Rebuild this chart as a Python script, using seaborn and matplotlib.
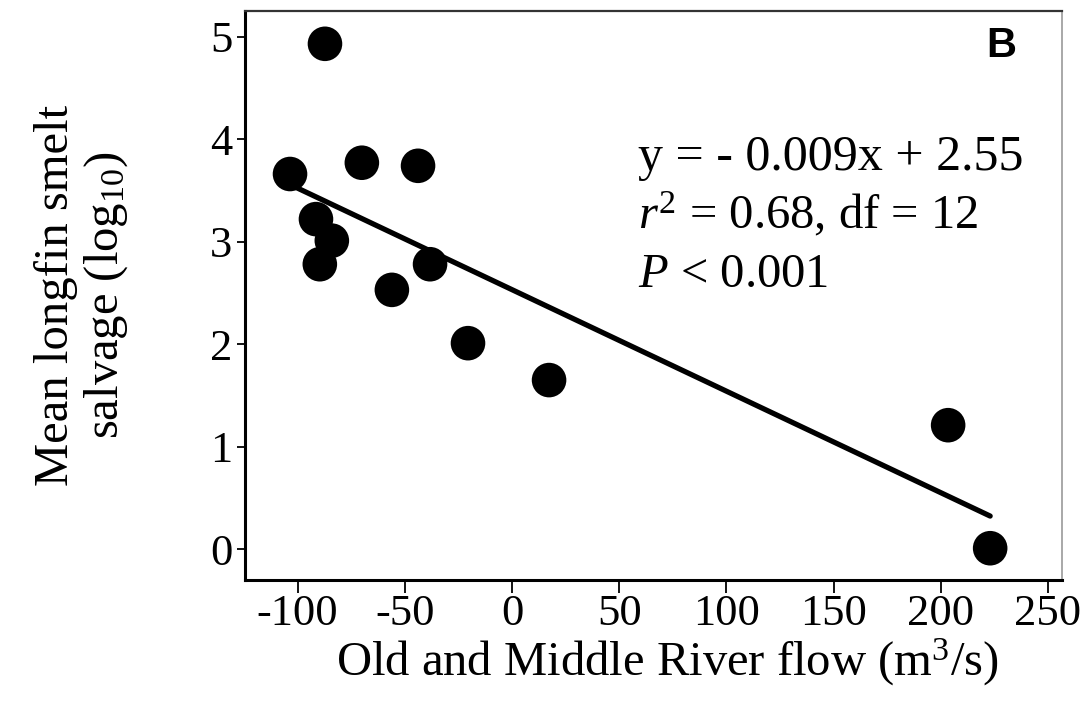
import matplotlib
matplotlib.use('Agg')
import matplotlib.pyplot as plt
import pandas as pd
import seaborn as sns

# values
omr_flow = [-87.2, -103.5, -70.0, -43.8, -91.4, -84.0, -89.6, -38.2, -56.0, -20.5, 17.3, 203.4, 223.0]
log_salvage = [4.93, 3.66, 3.77, 3.74, 3.22, 3.01, 2.78, 2.78, 2.53, 2.01, 1.65, 1.21, 0.01]
x_ticks = [-100, -50, 0, 50, 100, 150, 200, 250]
y_ticks = [0, 1, 2, 3, 4, 5]

df = pd.DataFrame({'flow': omr_flow, 'salvage': log_salvage})

sns.set_style('ticks')
plt.rcParams['font.family'] = ['Liberation Serif', 'DejaVu Serif']
plt.rcParams['text.color'] = 'black'
plt.rcParams['axes.labelcolor'] = 'black'
plt.rcParams['xtick.color'] = 'black'
plt.rcParams['ytick.color'] = 'black'
plt.rcParams['mathtext.fontset'] = 'custom'
plt.rcParams['mathtext.rm'] = 'Liberation Serif'
plt.rcParams['mathtext.it'] = 'Liberation Serif:italic'

fig = plt.figure(figsize=(10.84, 7.05), dpi=100)
ax = fig.add_axes([0.226, 0.1773, 0.7537, 0.8071])

sns.regplot(data=df, x='flow', y='salvage', ax=ax, ci=None, color='black',
            scatter_kws={'s': 620, 'alpha': 1, 'edgecolor': 'none'},
            line_kws={'linewidth': 3.8})

ax.set_xlim(-124.5, 256.5)
ax.set_ylim(-0.3, 5.25)
ax.set_xticks(x_ticks)
ax.set_xticklabels([str(t) for t in x_ticks])
ax.set_yticks(y_ticks)
ax.tick_params(axis='x', labelsize=32, length=9, width=1.3, pad=1)
ax.tick_params(axis='y', labelsize=32, length=6, width=1.3, pad=3)

for side in ['left', 'bottom']:
    ax.spines[side].set_linewidth(2.2)
    ax.spines[side].set_color('black')
ax.spines['top'].set_linewidth(1.6)
ax.spines['top'].set_color('#333333')
ax.spines['right'].set_linewidth(1.2)
ax.spines['right'].set_color('#999999')

ax.set_xlabel('Old and Middle River flow (m$^{3}$/s)', fontsize=35, labelpad=2)
ax.xaxis.label.set_x(0.517)
ax.set_ylabel('Mean longfin smelt\nsalvage (log$_{10}$)', fontsize=35, labelpad=58,
              linespacing=1.1)

# regression statistics
ax.text(59, 3.70, 'y = - 0.009x + 2.55', fontsize=36, va='baseline')
ax.text(59, 3.13, '$r^{\\mathrm{2}}$ = 0.68, df = 12', fontsize=35, va='baseline')
ax.text(59, 2.56, '$P$ < 0.001', fontsize=35, va='baseline')

ax.text(235, 5.10, 'B', fontsize=30, fontweight='bold', family='Liberation Sans',
        ha='right', va='top')

fig.savefig('out.png', dpi=100)
